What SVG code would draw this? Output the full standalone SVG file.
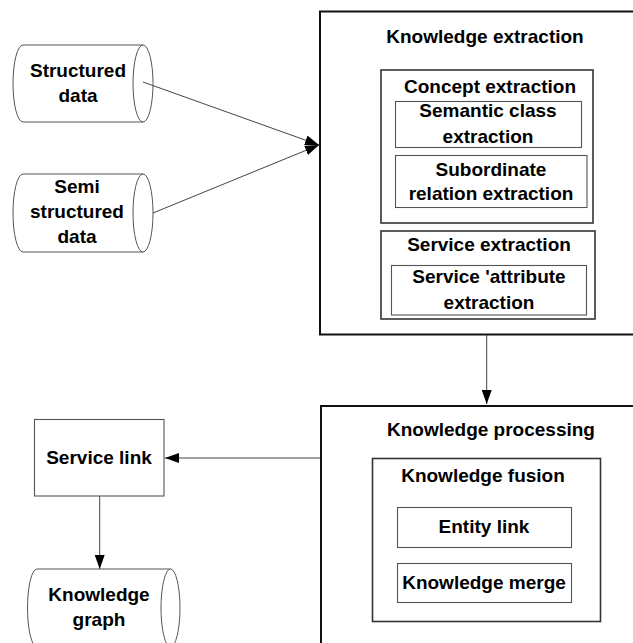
<svg xmlns="http://www.w3.org/2000/svg" width="633" height="643" viewBox="0 0 633 643">
  <defs>
    <style>
      text { font-family: "Liberation Sans", Arial, sans-serif; font-weight: bold; font-size: 19px; fill: #000; text-anchor: middle; }
      .outer { fill: #fff; stroke: #111; stroke-width: 2; }
      .group { fill: #fff; stroke: #333; stroke-width: 1.6; }
      .leaf { fill: #fff; stroke: #555; stroke-width: 1.1; }
      .store { fill: #fff; stroke: #555; stroke-width: 1; }
      .link { fill: none; stroke: #444; stroke-width: 1; }
    </style>
    <marker id="arrow" markerUnits="userSpaceOnUse" markerWidth="15" markerHeight="11" refX="14" refY="5" orient="auto">
      <path d="M0,0 L14,5 L0,10 Z" fill="#000"/>
    </marker>
  </defs>

  <rect width="633" height="643" fill="#fff"/>

  <!-- data sources -->
  <g id="structured-data">
    <path class="store" d="M23,45 L143,45 A10,38.5 0 0 1 143,122 L23,122 A10,38.5 0 0 1 23,45 Z"/>
    <path class="store" d="M143,45 A10,38.5 0 0 0 143,122"/>
    <text x="78" y="77">Structured</text>
    <text x="78" y="102">data</text>
  </g>

  <g id="semi-structured-data">
    <path class="store" d="M23,174 L143,174 A10,39 0 0 1 143,252 L23,252 A10,39 0 0 1 23,174 Z"/>
    <path class="store" d="M143,174 A10,39 0 0 0 143,252"/>
    <text x="77" y="193">Semi</text>
    <text x="77" y="218">structured</text>
    <text x="77" y="243">data</text>
  </g>

  <!-- extraction stage -->
  <g id="knowledge-extraction">
    <rect class="outer" x="320" y="11.5" width="330" height="323"/>
    <text x="485" y="43">Knowledge extraction</text>
    <g id="concept-extraction">
      <rect class="group" x="381" y="70" width="212" height="153"/>
      <text x="490" y="93">Concept extraction</text>
      <g id="semantic-class-extraction">
        <rect class="leaf" x="395.5" y="101.5" width="186" height="46"/>
        <text x="488" y="117">Semantic class</text>
        <text x="488" y="143">extraction</text>
      </g>
      <g id="subordinate-relation-extraction">
        <rect class="leaf" x="395.5" y="155.5" width="191.5" height="52"/>
        <text x="491" y="176">Subordinate</text>
        <text x="491" y="200">relation extraction</text>
      </g>
    </g>
    <g id="service-extraction">
      <rect class="group" x="381" y="231" width="214" height="88"/>
      <text x="489" y="251">Service extraction</text>
      <g id="service-attribute-extraction">
        <rect class="leaf" x="391.5" y="265.5" width="195" height="49.5"/>
        <text x="489" y="283">Service 'attribute</text>
        <text x="489" y="309">extraction</text>
      </g>
    </g>
  </g>

  <!-- processing stage -->
  <g id="knowledge-processing">
    <rect class="outer" x="321" y="406" width="330" height="260"/>
    <text x="491" y="436">Knowledge processing</text>
    <g id="knowledge-fusion">
      <rect class="group" x="372.5" y="458.5" width="228" height="163"/>
      <text x="483" y="482">Knowledge fusion</text>
      <g id="entity-link">
        <rect class="leaf" x="397.5" y="507.5" width="174" height="40"/>
        <text x="484" y="533">Entity link</text>
      </g>
      <g id="knowledge-merge">
        <rect class="leaf" x="397.5" y="563.5" width="174" height="39"/>
        <text x="484" y="589">Knowledge merge</text>
      </g>
    </g>
  </g>

  <!-- outputs -->
  <g id="service-link">
    <rect class="leaf" x="34.5" y="419.5" width="129.5" height="76.5"/>
    <text x="99" y="464">Service link</text>
  </g>

  <g id="knowledge-graph">
    <path class="store" d="M37,569 L170.5,569 A9.5,39 0 0 1 170.5,647 L37,647 A9.5,39 0 0 1 37,569 Z"/>
    <path class="store" d="M170.5,569 A9.5,39 0 0 0 170.5,647"/>
    <text x="99" y="601">Knowledge</text>
    <text x="99" y="626">graph</text>
  </g>

  <!-- connectors -->
  <g id="connectors">
    <line class="link" x1="143" y1="82" x2="319" y2="145" marker-end="url(#arrow)"/>
    <line class="link" x1="153" y1="213" x2="319" y2="145" marker-end="url(#arrow)"/>
    <line class="link" x1="486.7" y1="335" x2="486.7" y2="404" marker-end="url(#arrow)"/>
    <line class="link" x1="320" y1="458" x2="165" y2="458" marker-end="url(#arrow)"/>
    <line class="link" x1="99.7" y1="496" x2="99.7" y2="569" marker-end="url(#arrow)"/>
  </g>
</svg>
